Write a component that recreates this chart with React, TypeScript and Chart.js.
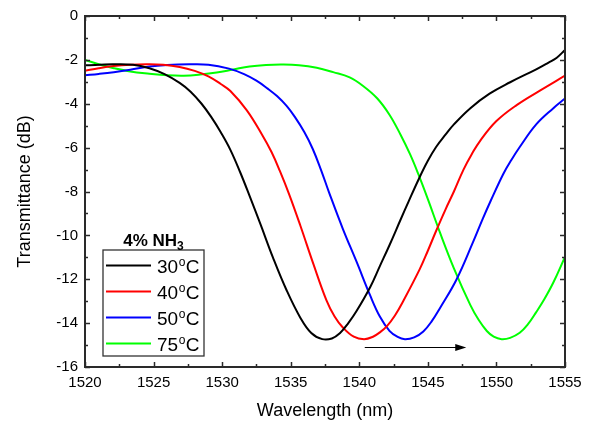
import React, { useEffect, useRef } from "react";
import { Chart, registerables } from "chart.js";

Chart.register(...registerables);

// ---- Data ----
const wl30 = [1520, 1522, 1523.5, 1524.7, 1525.8, 1526.9, 1527.7, 1528.5, 1529.2, 1529.9, 1530.6, 1531.3, 1532.0, 1532.8, 1533.7, 1534.7, 1535.7, 1536.5, 1537.3, 1538.0, 1538.6, 1539.2, 1539.8, 1540.8, 1541.5, 1542.2, 1543.0, 1543.6, 1544.4, 1545.0, 1545.6, 1546.3, 1546.9, 1548.1, 1549.5, 1551.0, 1552.9, 1553.8, 1554.4, 1555];
const t30 = [-2.25, -2.2, -2.22, -2.38, -2.65, -3.05, -3.45, -4.0, -4.6, -5.3, -6.1, -7.1, -8.2, -9.5, -11.0, -12.5, -13.75, -14.45, -14.73, -14.7, -14.45, -14.0, -13.45, -12.35, -11.4, -10.45, -9.3, -8.45, -7.35, -6.6, -5.97, -5.4, -4.94, -4.2, -3.54, -3.02, -2.43, -2.12, -1.9, -1.55];

const wl40 = [1520, 1521, 1522.1, 1523.3, 1524.5, 1525.7, 1526.9, 1528.0, 1529.0, 1529.9, 1530.6, 1531.8, 1532.9, 1533.6, 1534.2, 1534.9, 1535.7, 1536.65, 1537.6, 1538.2, 1538.8, 1539.6, 1540.35, 1541.0, 1541.5, 1542.0, 1542.6, 1543.2, 1544.4, 1545.0, 1545.6, 1546.3, 1546.9, 1547.6, 1548.2, 1548.8, 1550.0, 1551.5, 1553.2, 1555];
const t40 = [-2.5, -2.38, -2.28, -2.22, -2.2, -2.22, -2.32, -2.5, -2.75, -3.1, -3.42, -4.3, -5.4, -6.2, -7.05, -8.15, -9.55, -11.3, -12.95, -13.7, -14.2, -14.62, -14.73, -14.62, -14.42, -14.15, -13.65, -13.0, -11.55, -10.7, -9.8, -8.8, -8.0, -7.0, -6.3, -5.7, -4.79, -4.05, -3.39, -2.72];

const wl50 = [1520, 1521, 1522.1, 1523.3, 1524.7, 1526.0, 1527.6, 1529.0, 1530.5, 1531.6, 1532.5, 1533.3, 1534.0, 1534.7, 1535.3, 1536.0, 1536.6, 1537.2, 1537.8, 1538.8, 1539.8, 1540.8, 1541.5, 1542.2, 1542.8, 1543.33, 1544.0, 1544.67, 1545.3, 1545.9, 1547.1, 1548.3, 1549.0, 1549.6, 1550.5, 1551.1, 1551.7, 1552.9, 1554.15, 1555];
const t50 = [-2.7, -2.64, -2.56, -2.45, -2.3, -2.23, -2.2, -2.22, -2.4, -2.65, -2.95, -3.3, -3.65, -4.1, -4.6, -5.3, -6.05, -7.0, -8.05, -9.7, -11.2, -12.75, -13.7, -14.35, -14.63, -14.73, -14.65, -14.38, -13.9, -13.3, -12.0, -10.3, -9.25, -8.4, -7.2, -6.55, -5.97, -4.94, -4.2, -3.76];

const wl75 = [1520, 1521, 1522.1, 1523.3, 1524.7, 1526.0, 1527.2, 1528.4, 1529.6, 1530.8, 1532.0, 1533.2, 1534.4, 1535.6, 1536.9, 1538.1, 1539.3, 1540.3, 1541.3, 1542.2, 1543.0, 1543.7, 1544.3, 1545.0, 1545.9, 1546.9, 1548.1, 1548.7, 1549.3, 1549.8, 1550.38, 1551.0, 1551.7, 1552.3, 1552.9, 1553.5, 1554.15, 1555];
const t75 = [-2.0, -2.2, -2.38, -2.53, -2.63, -2.7, -2.72, -2.67, -2.58, -2.44, -2.3, -2.23, -2.21, -2.24, -2.36, -2.56, -2.8, -3.2, -3.75, -4.5, -5.4, -6.3, -7.2, -8.35, -9.9, -11.5, -13.18, -13.85, -14.36, -14.62, -14.73, -14.67, -14.44, -14.05, -13.5, -12.9, -12.15, -10.98];

const temps = ["30", "40", "50", "75"];
const colors = ["#000000", "#ff0000", "#0000ff", "#00ff00"];
const legendTitle = "4% NH";
const legendTitleSub = "3";
const xTitle = "Wavelength (nm)";
const yTitle = "Transmittance (dB)";
const arrowFrom = [1540.4, -15.07];
const arrowTo = [1547.8, -15.07];

const seriesWl = [wl30, wl40, wl50, wl75];
const seriesT = [t30, t40, t50, t75];

const FONT = "'Liberation Sans', Arial, sans-serif";

const framePlugin = {
  id: "frameTicks",
  afterDatasetsDraw(chart: any) {
    const { ctx, chartArea: a, scales } = chart;
    const xs = scales.x;
    const ys = scales.y;
    ctx.save();
    ctx.strokeStyle = "#2a2a2a";
    ctx.lineWidth = 1.5;
    const tick = (x1: number, y1: number, x2: number, y2: number) => {
      ctx.beginPath();
      ctx.moveTo(x1, y1);
      ctx.lineTo(x2, y2);
      ctx.stroke();
    };
    for (let v = 1520; v <= 1555.001; v += 2.5) {
      const px = Math.round(xs.getPixelForValue(v)) + 0.5;
      const major = Math.abs(v / 5 - Math.round(v / 5)) < 1e-6;
      const L = major ? 5 : 3;
      tick(px, a.bottom, px, a.bottom - L);
      tick(px, a.top, px, a.top + L);
    }
    for (let v = -16; v <= 0.001; v += 1) {
      const py = Math.round(ys.getPixelForValue(v)) + 0.5;
      const major = v % 2 === 0;
      const L = major ? 5 : 3;
      tick(a.left, py, a.left + L, py);
      tick(a.right, py, a.right - L, py);
    }
    ctx.lineWidth = 2;
    ctx.strokeRect(a.left, a.top, a.right - a.left, a.bottom - a.top);

    // arrow
    const ax1 = xs.getPixelForValue(arrowFrom[0]);
    const ay = Math.round(ys.getPixelForValue(arrowFrom[1])) + 0.5;
    const ax2 = xs.getPixelForValue(arrowTo[0]);
    ctx.strokeStyle = "#000";
    ctx.fillStyle = "#000";
    ctx.lineWidth = 1;
    tick(ax1, ay, ax2 - 8, ay);
    ctx.beginPath();
    ctx.moveTo(ax2, ay);
    ctx.lineTo(ax2 - 11, ay - 3.5);
    ctx.lineTo(ax2 - 11, ay + 3.5);
    ctx.closePath();
    ctx.fill();

    // legend
    const bx = 103, by = 250, bw = 101, bh = 106;
    ctx.fillStyle = "#fff";
    ctx.fillRect(bx, by, bw, bh);
    ctx.strokeStyle = "#333";
    ctx.lineWidth = 1.3;
    ctx.strokeRect(bx, by, bw, bh);
    ctx.fillStyle = "#000";
    ctx.textBaseline = "alphabetic";
    ctx.font = `bold 17px ${FONT}`;
    const w1 = ctx.measureText(legendTitle).width;
    ctx.font = `bold 12px ${FONT}`;
    const w2 = ctx.measureText(legendTitleSub).width;
    const tx = bx + bw / 2 - (w1 + w2) / 2;
    ctx.font = `bold 17px ${FONT}`;
    ctx.textAlign = "left";
    ctx.fillText(legendTitle, tx, 246);
    ctx.font = `bold 12px ${FONT}`;
    ctx.fillText(legendTitleSub, tx + w1, 250);
    temps.forEach((t, i) => {
      const ry = 265 + i * 26;
      ctx.strokeStyle = colors[i];
      ctx.lineWidth = 2;
      tick(106, ry + 0.5, 151, ry + 0.5);
      ctx.fillStyle = "#000";
      ctx.font = `19px ${FONT}`;
      ctx.fillText(t, 157, ry + 8);
      const tw = ctx.measureText(t).width;
      ctx.font = `12px ${FONT}`;
      ctx.fillText("o", 157 + tw + 0.5, ry + 1);
      const ow = ctx.measureText("o").width;
      ctx.font = `19px ${FONT}`;
      ctx.fillText("C", 157 + tw + ow + 1, ry + 8);
    });
    ctx.restore();
  },
};

export default function App() {
  const ref = useRef<HTMLCanvasElement | null>(null);
  useEffect(() => {
    if (!ref.current) return;
    const chart = new Chart(ref.current, {
      type: "line",
      data: {
        datasets: temps.map((t, i) => ({
          label: `${t}°C`,
          data: seriesWl[i].map((x, j) => ({ x, y: seriesT[i][j] })),
          borderColor: colors[i],
          backgroundColor: colors[i],
          borderWidth: 2,
          pointRadius: 0,
          fill: false,
          tension: 0.4,
        })),
      },
      options: {
        animation: false,
        responsive: false,
        maintainAspectRatio: false,
        layout: { padding: { left: 0, top: 5, right: 30, bottom: 0 } },
        plugins: { legend: { display: false }, tooltip: { enabled: false } },
        scales: {
          x: {
            type: "linear",
            min: 1520,
            max: 1555,
            grid: { display: false, drawTicks: false },
            border: { display: false },
            ticks: { stepSize: 5, color: "#000", font: { family: FONT, size: 15 }, padding: 7, callback: (v: any) => String(v) },
            title: { display: true, text: xTitle, color: "#000", font: { family: FONT, size: 18 }, padding: { top: 0, bottom: 6 } },
            afterFit: (s: any) => { s.height = 61; },
          },
          y: {
            type: "linear",
            min: -16,
            max: 0,
            grid: { display: false, drawTicks: false },
            border: { display: false },
            ticks: { stepSize: 2, color: "#000", font: { family: FONT, size: 15 }, padding: 7, callback: (v: any) => String(v) },
            title: { display: true, text: yTitle, color: "#000", font: { family: FONT, size: 18 }, padding: { top: 14, bottom: 0 } },
            afterFit: (s: any) => { s.width = 85; },
          },
        },
      },
      plugins: [framePlugin],
    });
    return () => chart.destroy();
  }, []);
  return (
    <div style={{ position: "fixed", left: 0, top: 0, width: 595, height: 428, background: "#fff" }}>
      <canvas ref={ref} width={595} height={428} style={{ width: 595, height: 428 }} />
    </div>
  );
}
